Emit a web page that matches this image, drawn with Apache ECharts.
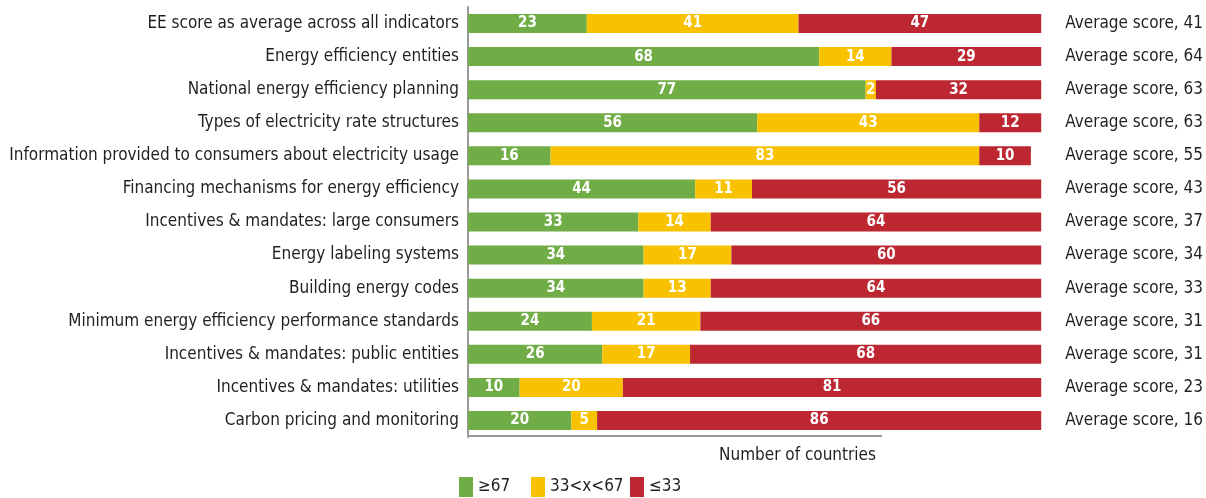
<!DOCTYPE html>
<html>
<head>
<meta charset="utf-8">
<script src="https://cdn.jsdelivr.net/npm/echarts@6/dist/echarts.min.js"></script>
<style>
  html, body { margin: 0; padding: 0; background: #fff; }
  #chart { width: 1206px; height: 498px; }
</style>
</head>
<body>
<div id="chart"></div>
<script>
// categories, top to bottom
var categories = [
  'EE score as average across all indicators',
  'Energy efficiency entities',
  'National energy efficiency planning',
  'Types of electricity rate structures',
  'Information provided to consumers about electricity usage',
  'Financing mechanisms for energy efficiency',
  'Incentives & mandates: large consumers',
  'Energy labeling systems',
  'Building energy codes',
  'Minimum energy efficiency performance standards',
  'Incentives & mandates: public entities',
  'Incentives & mandates: utilities',
  'Carbon pricing and monitoring'
]
var avgScores = [41, 64, 63, 63, 55, 43, 37, 34, 33, 31, 31, 23, 16]
var high = [23, 68, 77, 56, 16, 44, 33, 34, 34, 24, 26, 10, 20]
var mid = [41, 14, 2, 43, 83, 11, 14, 17, 13, 21, 17, 20, 5]
var low = [47, 29, 32, 12, 10, 56, 64, 60, 64, 66, 68, 81, 86]
var seriesNames = ['≥67', '33<x<67', '≤33']

var FONT = '"Liberation Sans Narrow", "DejaVu Sans Condensed", sans-serif'
var colors = ['#71ad47', '#f8c200', '#bd2731']
var legendLeft = [459, 531, 630]

var chart = echarts.init(document.getElementById('chart'))

function makeSeries(name, data, color) {
  return {
    name: name,
    type: 'bar',
    stack: 'total',
    barWidth: 19,
    data: data,
    itemStyle: { color: color },
    label: {
      show: true,
      position: 'inside',
      color: '#fff',
      fontFamily: FONT,
      fontWeight: 'bold',
      fontSize: 15
    }
  }
}

var option = {
  animation: false,
  grid: { left: 468, right: 164, top: 7, height: 430 },
  xAxis: {
    type: 'value',
    min: 0,
    max: 111,
    show: false
  },
  yAxis: [
    {
      type: 'category',
      data: categories,
      inverse: true,
      axisLine: { show: true, lineStyle: { color: '#999', width: 2 } },
      axisTick: { show: false },
      axisLabel: { color: '#231f20', fontFamily: FONT, fontSize: 17, margin: 9 }
    },
    {
      type: 'category',
      data: avgScores.map(function (v) { return 'Average score, ' + v }),
      inverse: true,
      position: 'right',
      axisLine: { show: false },
      axisTick: { show: false },
      axisLabel: { color: '#231f20', fontFamily: FONT, fontSize: 17, margin: 24, align: 'left' }
    }
  ],
  title: {
    text: 'Number of countries',
    left: 714,
    top: 442,
    textStyle: { color: '#231f20', fontFamily: FONT, fontSize: 17, fontWeight: 'normal' }
  },
  legend: seriesNames.map(function (name, i) {
    return {
      data: [name],
      left: legendLeft[i],
      top: 477,
      itemWidth: 14,
      itemHeight: 20,
      icon: 'rect',
      padding: 0,
      textStyle: { color: '#231f20', fontFamily: FONT, fontSize: 17 }
    }
  }),
  graphic: [
    {
      type: 'line',
      shape: { x1: 467, y1: 436, x2: 882, y2: 436 },
      style: { stroke: '#999', lineWidth: 2 }
    }
  ],
  series: [
    makeSeries(seriesNames[0], high, colors[0]),
    makeSeries(seriesNames[1], mid, colors[1]),
    makeSeries(seriesNames[2], low, colors[2])
  ]
}

chart.setOption(option)
</script>
</body>
</html>
